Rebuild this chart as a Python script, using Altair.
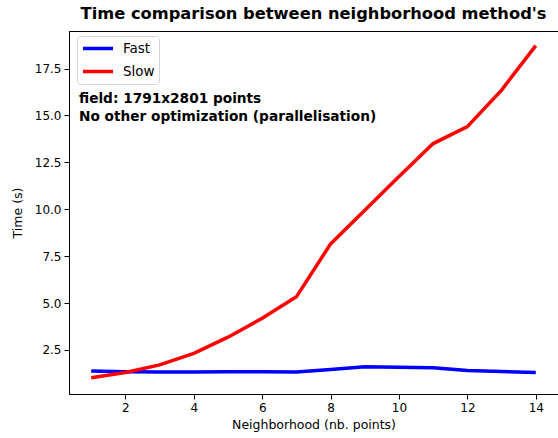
import altair as alt
import pandas as pd

neighborhood = list(range(1, 15))
fast = [1.38, 1.33, 1.32, 1.32, 1.33, 1.34, 1.32, 1.45, 1.60, 1.57, 1.55, 1.40, 1.35, 1.30]
slow = [1.02, 1.30, 1.70, 2.32, 3.18, 4.19, 5.33, 8.15, 9.95, 11.75, 13.50, 14.40, 16.35, 18.72]
methods = ["Fast", "Slow"]
colors = ["#0000ff", "#ff0000"]
notes = ["field: 1791x2801 points", "No other optimization (parallelisation)"]

rows = []
for i, n in enumerate(neighborhood):
    rows.append({"n": n, "t": fast[i], "method": "Fast"})
    rows.append({"n": n, "t": slow[i], "method": "Slow"})
df = pd.DataFrame(rows)

FONT = "DejaVu Sans"

lines = alt.Chart(df).mark_line(strokeWidth=3.5).encode(
    x=alt.X("n:Q", scale=alt.Scale(domain=[0.35, 14.65], nice=False, zero=False),
            axis=alt.Axis(values=[2, 4, 6, 8, 10, 12, 14], title="Neighborhood (nb. points)",
                          grid=False, format="d", titleFontWeight="normal")),
    y=alt.Y("t:Q", scale=alt.Scale(domain=[0.15, 19.5], nice=False, zero=False),
            axis=alt.Axis(values=[2.5, 5, 7.5, 10, 12.5, 15, 17.5], title="Time (s)",
                          grid=False, format=".1f", titleFontWeight="normal")),
    color=alt.Color("method:N", scale=alt.Scale(domain=methods, range=colors),
                    legend=alt.Legend(title=None, orient="none", legendX=8, legendY=5,
                                      symbolType="stroke", symbolSize=900, symbolStrokeWidth=3.5,
                                      clipHeight=17,
                                      labelFont=FONT, labelFontSize=13.5, labelColor="#000",
                                      padding=4, rowPadding=6, strokeColor="#d5d5d5",
                                      fillColor="white", cornerRadius=3, labelOffset=8)),
)

notes_df = pd.DataFrame({"label": notes, "row": [0, 1]})
ann = alt.Chart(notes_df).mark_text(align="left", baseline="middle", font=FONT, fontSize=13.7,
                                   fontWeight="bold", color="#000").encode(
    x=alt.value(10),
    y=alt.Y("row:Q", scale=alt.Scale(domain=[0, 1], range=[68, 86]), axis=None),
    text="label:N",
)

chart = alt.layer(lines, ann).resolve_scale(y="independent").properties(
    width=489, height=363,
    background="white",
    autosize=alt.AutoSizeParams(type="none"),
    padding={"left": 69, "top": 31, "right": 0, "bottom": 44},
    title=alt.TitleParams("Time comparison between neighborhood method's", font=FONT,
                          fontSize=16.3, fontWeight="bold", color="#000", anchor="middle",
                          offset=9),
).configure_axis(
    labelFont=FONT, labelFontSize=12, labelColor="#000", titleFont=FONT, titleFontSize=12.5,
    titleFontWeight="normal", titleColor="#000", domainColor="#000", tickColor="#000",
    tickSize=5, labelPadding=3,
).configure_axisX(titlePadding=5).configure_axisY(titlePadding=10).configure_view(
    stroke="#000", strokeWidth=1
)

chart.save("out.html", embed_options={"renderer": "svg", "actions": False})
